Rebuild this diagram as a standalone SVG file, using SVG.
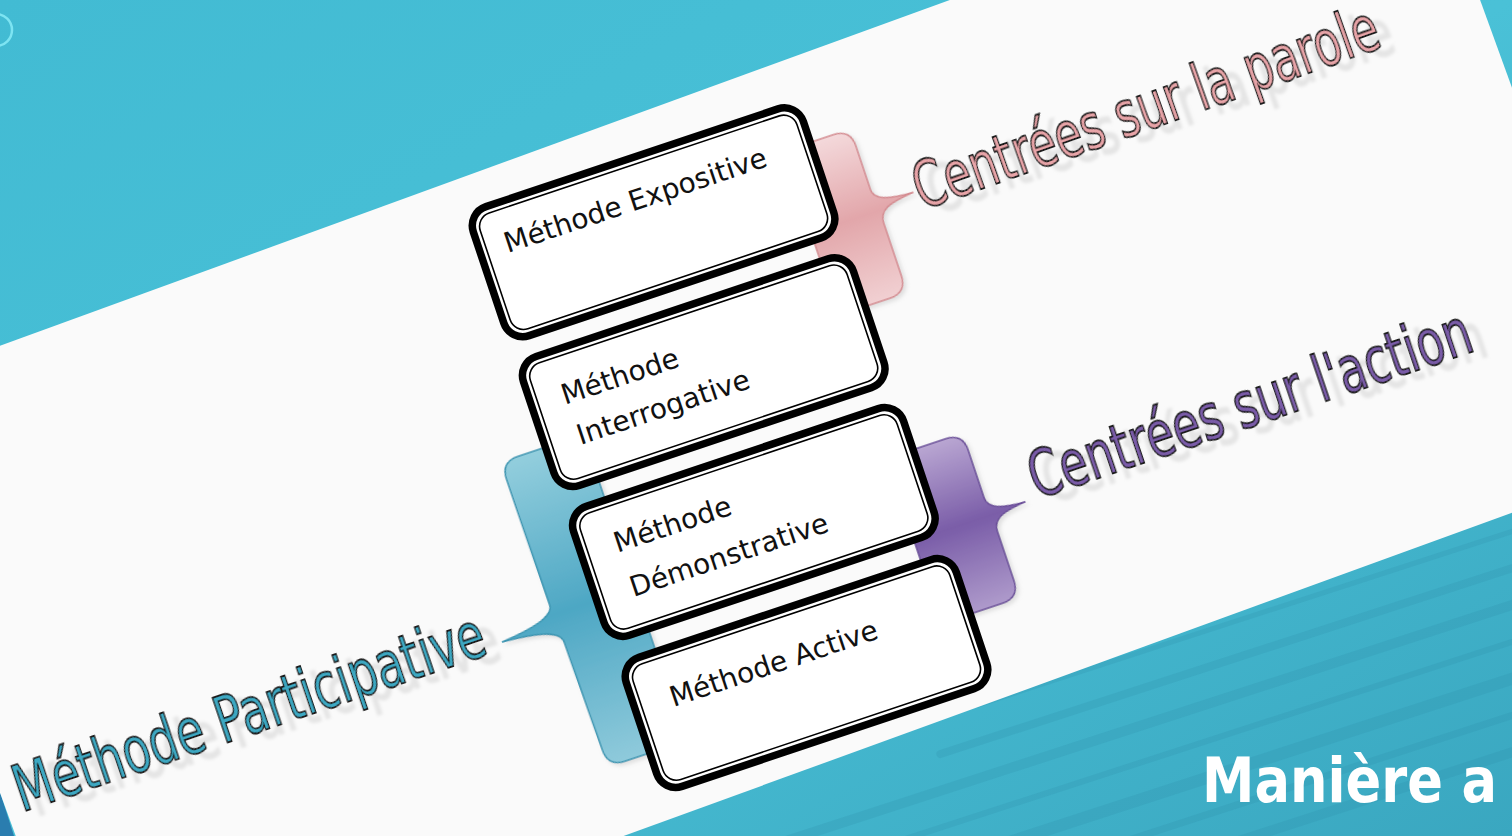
<svg xmlns="http://www.w3.org/2000/svg" width="1512" height="836" viewBox="0 0 1512 836">
  <defs>
    <linearGradient id="bg" x1="0" y1="0" x2="1" y2="1">
      <stop offset="0" stop-color="#42BBD3"/>
      <stop offset="0.5" stop-color="#4AC1D7"/>
      <stop offset="1" stop-color="#3AA7C0"/>
    </linearGradient>
    <linearGradient id="gPink" x1="0" y1="0" x2="0" y2="1">
      <stop offset="0" stop-color="#F4D9DB"/>
      <stop offset="0.5" stop-color="#E2A6AA"/>
      <stop offset="1" stop-color="#F1D0D2"/>
    </linearGradient>
    <linearGradient id="gPurple" x1="0" y1="0" x2="0" y2="1">
      <stop offset="0" stop-color="#B9A6D2"/>
      <stop offset="0.5" stop-color="#7A5DA8"/>
      <stop offset="1" stop-color="#AE9ACB"/>
    </linearGradient>
    <linearGradient id="gTeal" x1="0" y1="0" x2="0" y2="1">
      <stop offset="0" stop-color="#93CEDD"/>
      <stop offset="0.5" stop-color="#4DA7C4"/>
      <stop offset="1" stop-color="#8FCADB"/>
    </linearGradient>
    <filter id="lshadow" x="-10%" y="-40%" width="125%" height="200%">
      <feColorMatrix in="SourceAlpha" type="matrix" values="0 0 0 0 0.6  0 0 0 0 0.6  0 0 0 0 0.6  0 0 0 0.45 0" result="g"/>
      <feOffset in="g" dx="12" dy="9" result="o"/>
      <feGaussianBlur in="o" stdDeviation="1.6" result="b"/>
      <feMerge><feMergeNode in="b"/><feMergeNode in="SourceGraphic"/></feMerge>
    </filter>
    <filter id="bshadow" x="-20%" y="-10%" width="140%" height="120%">
      <feGaussianBlur in="SourceAlpha" stdDeviation="2"/>
      <feOffset dx="2" dy="3" result="o"/>
      <feColorMatrix in="o" type="matrix" values="0 0 0 0 0.4  0 0 0 0 0.4  0 0 0 0 0.4  0 0 0 0.35 0" result="s"/>
      <feMerge><feMergeNode in="s"/><feMergeNode in="SourceGraphic"/></feMerge>
    </filter>
  </defs>
  <style>
    .box { fill: #ffffff; stroke: #000000; stroke-width: 7.5; }
    .inner { fill: none; stroke: #000000; stroke-width: 1.6; }
    .btxt { font-family: "DejaVu Sans", "Liberation Sans", sans-serif; font-size: 28px; fill: #111111; }
    .lbl { font-family: "DejaVu Sans", "Liberation Sans", sans-serif; font-size: 64px; stroke: #1a1a1a; stroke-width: 1.8; filter: url(#lshadow); }
    .streak { stroke: #2C8DA8; stroke-linecap: round; fill: none; opacity: 0.22; }
  </style>

  <!-- background -->
  <rect x="0" y="0" width="1512" height="836" fill="url(#bg)"/>
  <g transform="rotate(-18 1100 760)">
    <line class="streak" x1="700" y1="740" x2="1550" y2="740" stroke-width="10"/>
    <line class="streak" x1="820" y1="775" x2="1600" y2="775" stroke-width="6"/>
    <line class="streak" x1="760" y1="810" x2="1580" y2="810" stroke-width="12"/>
    <line class="streak" x1="900" y1="845" x2="1600" y2="845" stroke-width="7"/>
    <line class="streak" x1="950" y1="705" x2="1600" y2="705" stroke-width="8"/>
    <line class="streak" x1="1100" y1="880" x2="1650" y2="880" stroke-width="10"/>
    <line class="streak" x1="1000" y1="670" x2="1650" y2="670" stroke-width="5"/>
  </g>
  <path d="M0,792 L14,836 L0,836 Z" fill="#2A7DAF"/>
  <circle cx="-4" cy="30" r="16" fill="none" stroke="#7DE4F2" stroke-width="2.5"/>

  <!-- rotated white card -->
  <rect id="card" transform="translate(-143.7,398) rotate(-20)" x="0" y="0" width="1662" height="674" fill="#FAFAFA"/>

  <g transform="translate(467,213) rotate(-18.5)">
    <!-- connectors: bracket callouts -->
    <g id="connectors" filter="url(#bshadow)">
      <path id="brace-parole" d="M320,42 L372,42 Q390,42 390,60 L390,106 C390,117 404,121 430,122 C404,124 392,128 392,142 L392,197 Q392,215 374,215 L320,215 Z" fill="url(#gPink)" stroke="#D48C91" stroke-width="1.5"/>
      <path id="brace-action" d="M320,366 L382,366 Q400,366 400,384 L400,434 C400,446 414,450 438,451 C414,453 402,457 402,470 L402,522 Q402,540 384,540 L320,540 Z" fill="url(#gPurple)" stroke="#6A4E98" stroke-width="1.5"/>
      <path id="brace-participative" d="M40,247 L-29,247 Q-47,247 -47,265 L-46,398 C-46,410 -70,415 -103,418 C-72,420 -44,424 -44,438 L-42,552 Q-42,570 -24,570 L40,570 Z" fill="url(#gTeal)" stroke="#3C95B1" stroke-width="1.5"/>
    </g>

    <g id="node-expositive">
      <rect class="box" x="0" y="0" width="348" height="136" rx="20"/>
      <rect class="inner" x="7" y="7" width="334" height="122" rx="14"/>
      <text class="btxt" x="26" y="51">Méthode Expositive</text>
    </g>
    <g id="node-interrogative">
      <rect class="box" x="0" y="158" width="348" height="136" rx="20"/>
      <rect class="inner" x="7" y="165" width="334" height="122" rx="14"/>
      <text class="btxt"><tspan x="32" y="213">Méthode</tspan><tspan x="34" y="256">Interrogative</tspan></text>
    </g>
    <g id="node-demonstrative">
      <rect class="box" x="0" y="316" width="348" height="136" rx="20"/>
      <rect class="inner" x="7" y="323" width="334" height="122" rx="14"/>
      <text class="btxt"><tspan x="35" y="370">Méthode</tspan><tspan x="36" y="417">Démonstrative</tspan></text>
    </g>
    <g id="node-active">
      <rect class="box" x="2" y="476" width="348" height="136" rx="20"/>
      <rect class="inner" x="9" y="483" width="334" height="122" rx="14"/>
      <text class="btxt" x="39" y="534">Méthode Active</text>
    </g>
  </g>

  <!-- labels -->
  <g id="label-parole">
    <text class="lbl" transform="translate(922,210) rotate(-19.5)" textLength="490" lengthAdjust="spacingAndGlyphs" fill="#E8A4A8">Centrées sur la parole</text>
  </g>
  <g id="label-action">
    <text class="lbl" transform="translate(1037,499) rotate(-18.7)" textLength="464" lengthAdjust="spacingAndGlyphs" fill="#7A5BA8">Centrées sur l'action</text>
  </g>
  <g id="label-participative">
    <text class="lbl" transform="translate(22,812) rotate(-18.7)" textLength="494" lengthAdjust="spacingAndGlyphs" fill="#3DA8C2">Méthode Participative</text>
  </g>

  <text id="title" x="1202" y="802" textLength="295" lengthAdjust="spacingAndGlyphs" font-family="'DejaVu Sans', 'Liberation Sans', sans-serif" font-weight="bold" font-size="62" fill="#FFFFFF">Manière a</text>
</svg>
